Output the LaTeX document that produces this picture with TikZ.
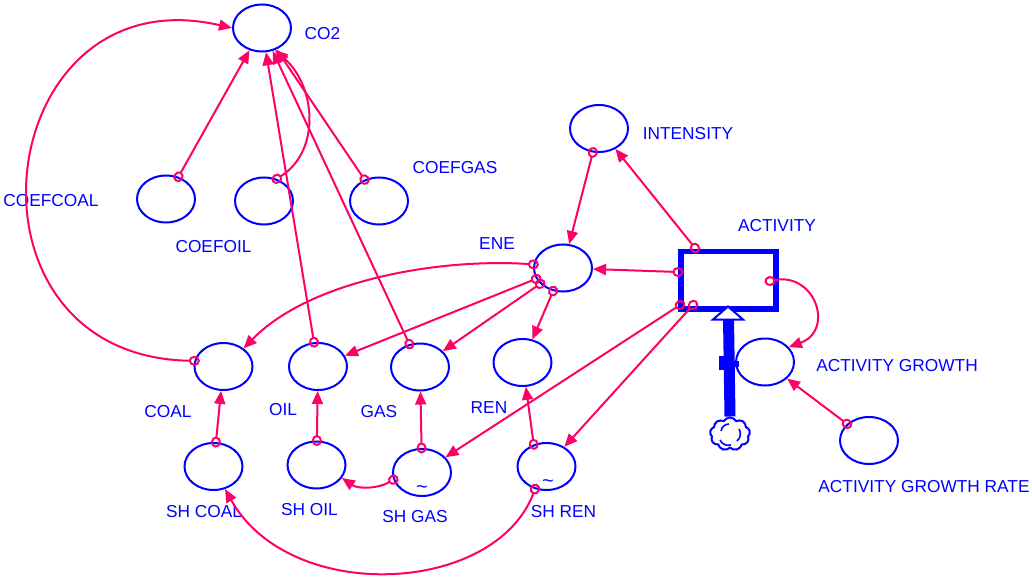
\documentclass[tikz,border=0pt]{standalone}
\usepackage{fontspec}
\setmainfont{Liberation Sans}
\usetikzlibrary{shapes.geometric,shapes.symbols,arrows.meta}
\definecolor{vblue}{RGB}{0,0,255}
\definecolor{cpink}{RGB}{255,0,102}
\tikzset{
 var/.style={ellipse, draw=vblue, line width=2pt, minimum width=58pt, minimum height=47pt, inner sep=0pt},
 lab/.style={text=vblue, font=\fontsize{17.3}{20}\selectfont, inner sep=0pt},
 tild/.style={text=vblue, font=\fontsize{20}{20}\selectfont, inner sep=0pt},
 conn/.style={draw=cpink, line width=2pt, arrows={Circle[open,length=11pt,width=10pt]-Triangle[length=13pt,width=11pt]}, shorten <=-5.5pt},
 stockbox/.style={draw=vblue, line width=5.5pt, minimum width=95pt, minimum height=57.5pt, inner sep=0pt},
}
\begin{document}
\begin{tikzpicture}[x=1pt,y=-1pt]
\useasboundingbox (0,0) rectangle (1032,577);
% variables
\node[var] (CO2) at (262,28) {};
\node[var] (COEFCOAL) at (166,199) {};
\node[var] (COEFOIL) at (264,201) {};
\node[var] (COEFGAS) at (379,201) {};
\node[var] (INTENSITY) at (599,128.5) {};
\node[var] (ENE) at (563,268) {};
\node[var] (COAL) at (223.5,366.5) {};
\node[var] (OIL) at (318,366.5) {};
\node[var] (GAS) at (420,367) {};
\node[var] (REN) at (522.5,362.5) {};
\node[var] (SHCOAL) at (213.5,466.5) {};
\node[var] (SHOIL) at (316.5,465) {};
\node[var] (SHGAS) at (422,472.5) {};
\node[var] (SHREN) at (546.5,466.5) {};
\node[var] (AG) at (765,362) {};
\node[var] (AGR) at (869,440.5) {};
% labels
\node[lab] (tCO2) at (322.5,34) {CO2};
\node[lab] (tCOEFCOAL) at (51,201) {COEFCOAL};
\node[lab] (tCOEFOIL) at (213.5,247) {COEFOIL};
\node[lab] (tCOEFGAS) at (455,168) {COEFGAS};
\node[lab] (tINTENSITY) at (688,134) {INTENSITY};
\node[lab] (tENE) at (497,244) {ENE};
\node[lab] (tACTIVITY) at (777,226) {ACTIVITY};
\node[lab] (tAG) at (897,366) {ACTIVITY GROWTH};
\node[lab] (tAGR) at (924,487) {ACTIVITY GROWTH RATE};
\node[lab] (tCOAL) at (168,412) {COAL};
\node[lab] (tOIL) at (283,410) {OIL};
\node[lab] (tGAS) at (379,412) {GAS};
\node[lab] (tREN) at (489,408) {REN};
\node[lab] (tSHCOAL) at (204,512) {SH COAL};
\node[lab] (tSHOIL) at (309.5,510) {SH OIL};
\node[lab] (tSHGAS) at (415,517) {SH GAS};
\node[lab] (tSHREN) at (563.5,512) {SH REN};
\node[tild] (tildeGAS) at (422,490) {\textasciitilde};
\node[tild] (tildeREN) at (548,484) {\textasciitilde};
% flow
\node[cloud, cloud puffs=9, cloud puff arc=120, aspect=1.25, draw=vblue, line width=2pt, minimum width=40pt, minimum height=33pt, inner sep=0pt, fill=white] (cloud) at (730,434) {};
\draw[vblue, line width=1.6pt] (721,431) to[bend left=40] (729,424);
\draw[vblue, line width=1.6pt] (739,429) to[bend left=40] (737,441);
\draw[vblue, line width=1.6pt] (731,445) to[bend left=40] (720,440);
\draw[vblue, line width=11pt] (cloud.north) -- (728.5,318);
\fill[vblue] (719,356) rectangle (725,370);
\fill[vblue] (733,360.5) rectangle (738.5,366.5);
\node[stockbox] (ACTIVITY) at (728.5,280) {};
\draw[vblue, line width=2pt, fill=white, line join=miter] (713,319.5) -- (728,306.5) -- (743,319.5) -- cycle;
% straight connectors
\draw[conn] (COEFCOAL) -- (CO2);
\draw[conn] (COEFGAS) -- (CO2);
\draw[conn] (OIL) -- (CO2);
\draw[conn] (GAS) -- (CO2);
\draw[conn] (INTENSITY) -- (ENE);
\draw[conn] ([shift={(-33.5,-32)}]ACTIVITY.center) -- (INTENSITY);
\draw[conn] ([shift={(-50.5,-8)}]ACTIVITY.center) -- (ENE);
\draw[conn] ([shift={(-48.5,25)}]ACTIVITY.center) -- (SHGAS);
\draw[conn] ([shift={(-35.5,25)}]ACTIVITY.center) -- (SHREN);
\draw[conn] (AGR) -- (AG);
\draw[conn] (ENE) -- (OIL);
\draw[conn] (ENE) -- (GAS);
\draw[conn] (ENE) -- (REN);
\draw[conn] (SHCOAL) -- (COAL);
\draw[conn] (SHOIL) -- (OIL);
\draw[conn] (SHGAS) -- (GAS);
\draw[conn] (SHREN.120) -- (REN);
% curved connectors
\draw[conn] (COEFOIL.60) .. controls (322,150) and (315,85) .. (CO2.-60);
\draw[conn] (COAL.169) to[out=179, in=167, looseness=1.9] (CO2.180);
\draw[conn] (ENE.173) .. controls (440,258) and (310,280) .. (COAL.42);
\draw[conn] ([shift={(41.5,1)}]ACTIVITY.center) .. controls (815,272) and (835,330) .. (AG.32);
\draw[conn] (SHGAS.194) .. controls (378,489) and (358,489) .. (SHOIL.-27);
\draw[conn] (SHREN.243) .. controls (495,595) and (290,605) .. (SHCOAL.-63);
\end{tikzpicture}
\end{document}
